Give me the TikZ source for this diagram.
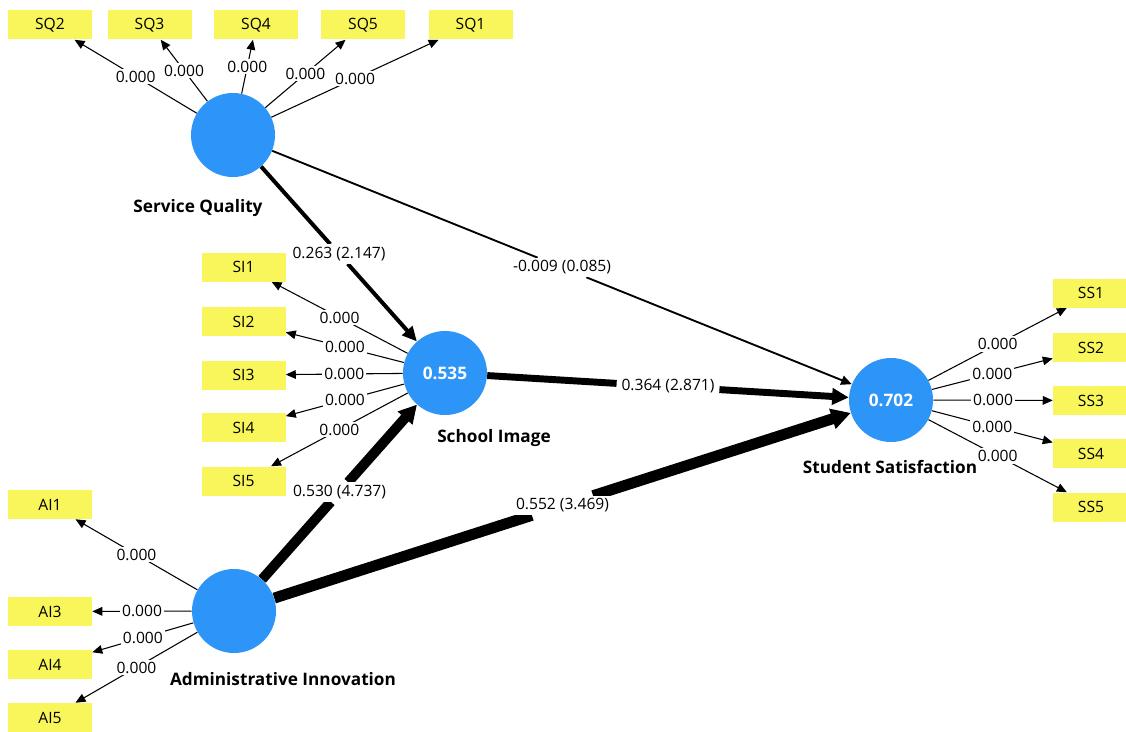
\documentclass[tikz,border=0pt]{standalone}
\usepackage{fontspec}
\setmainfont{Open Sans}
\usetikzlibrary{arrows.meta,calc}
\pgfdeclarelayer{bg}
\pgfdeclarelayer{paper}
\pgfsetlayers{paper,bg,main}
\definecolor{lvblue}{RGB}{45,148,248}
\definecolor{mvyellow}{RGB}{248,246,90}
\newcommand{\fsz}{\fontsize{11.7}{14}\selectfont}
\newcommand{\fbz}{\fontsize{12.9}{15}\selectfont}
\tikzset{
  lv/.style={circle,fill=lvblue,minimum size=63pt,inner sep=0pt,text=white,font=\bfseries\fbz},
  mv/.style={rectangle,fill=mvyellow,minimum width=63pt,minimum height=21.75pt,inner sep=0pt,font=\fsz},
  lvname/.style={inner sep=0pt,font=\bfseries\fbz},
  lbl/.style={fill=white,inner sep=1.5pt,font=\fsz},
  plbl/.style={fill=white,inner xsep=3.5pt,inner ysep=2pt,font=\fsz},
  ind/.style={draw=black,line width=0.8pt,-{Triangle[length=7.5pt,width=6.5pt]}},
}
\begin{document}
\begin{tikzpicture}[x=0.75pt,y=-0.75pt]
\clip (0,0) rectangle (1126,731);
\begin{pgfonlayer}{paper}
\fill[white] (0,0) rectangle (1126,731);
\end{pgfonlayer}
% latent variables
\node[lv] (sq) at (233,135) {};
\node[lv] (si) at (445,373) {0.535};
\node[lv] (ss) at (891,400) {0.702};
\node[lv] (ai) at (234,611) {};
\node[lvname] (sqn) at (198,208) {Service Quality};
\node[lvname] (sin) at (494,438) {School Image};
\node[lvname] (ssn) at (890,467) {Student Satisfaction};
\node[lvname] (ain) at (283,679) {Administrative Innovation};
% indicators
\node[mv] (sq2) at (50,25) {SQ2};
\node[mv] (sq3) at (149.5,25) {SQ3};
\node[mv] (sq4) at (256,25) {SQ4};
\node[mv] (sq5) at (363,25) {SQ5};
\node[mv] (sq1) at (470.5,25) {SQ1};
\node[mv] (si1) at (243.5,267) {SI1};
\node[mv] (si2) at (243.5,321.5) {SI2};
\node[mv] (si3) at (243.5,375) {SI3};
\node[mv] (si4) at (243.5,427.5) {SI4};
\node[mv] (si5) at (243.5,481) {SI5};
\node[mv] (ss1) at (1095,293) {\hspace*{-6pt}SS1};
\node[mv] (ss2) at (1095,347.5) {\hspace*{-6pt}SS2};
\node[mv] (ss3) at (1095,400.5) {\hspace*{-6pt}SS3};
\node[mv] (ss4) at (1095,453.5) {\hspace*{-6pt}SS4};
\node[mv] (ss5) at (1095,507) {\hspace*{-6pt}SS5};
\node[mv] (ai1) at (50,504.5) {AI1};
\node[mv] (ai3) at (50,611.5) {AI3};
\node[mv] (ai4) at (50,664.5) {AI4};
\node[mv] (ai5) at (50,717.5) {AI5};
% path coefficient labels
\node[plbl] (p1) at ($(sq)!0.5!(si)$) {0.263 (2.147)};
\node[plbl] (p2) at ($(sq)!0.5!(ss)$) {-0.009 (0.085)};
\node[plbl] (p3) at ($(si)!0.5!(ss)$) {0.364 (2.871)};
\node[plbl] (p4) at ($(ai)!0.5!(si)$) {0.530 (4.737)};
\node[plbl] (p5) at ($(ai)!0.5!(ss)$) {0.552 (3.469)};
\begin{pgfonlayer}{bg}
% structural paths
\draw[line width=3pt] (sq) -- (p1);
\draw[line width=3pt,-{Triangle[length=11pt,width=10pt]}] (p1) -- (si);
\draw[line width=1.4pt] (sq) -- (p2);
\draw[line width=1.4pt,-{Triangle[length=8pt,width=7pt]}] (p2) -- (ss);
\draw[line width=5.2pt] (si) -- (p3);
\draw[line width=5.2pt,-{Triangle[length=12.5pt,width=12pt]}] (p3) -- (ss);
\draw[line width=7.5pt] (ai) -- (p4);
\draw[line width=7.5pt,-{Triangle[length=13.5pt,width=14pt]}] (p4) -- (si);
\draw[line width=8.2pt] (ai) -- (p5);
\draw[line width=8.2pt,-{Triangle[length=14.5pt,width=15pt]}] (p5) -- (ss);
% outer loadings
\draw[ind] (sq) -- node[lbl]{0.000} (sq2);
\draw[ind] (sq) -- node[lbl]{0.000} (sq3);
\draw[ind] (sq) -- node[lbl]{0.000} (sq4);
\draw[ind] (sq) -- node[lbl]{0.000} (sq5);
\draw[ind] (sq) -- node[lbl]{0.000} (sq1);
\draw[ind] (si) -- node[lbl]{0.000} (si1);
\draw[ind] (si) -- node[lbl]{0.000} (si2);
\draw[ind] (si) -- node[lbl]{0.000} (si3);
\draw[ind] (si) -- node[lbl]{0.000} (si4);
\draw[ind] (si) -- node[lbl]{0.000} (si5);
\draw[ind] (ss) -- node[lbl]{0.000} (ss1);
\draw[ind] (ss) -- node[lbl]{0.000} (ss2);
\draw[ind] (ss) -- node[lbl]{0.000} (ss3);
\draw[ind] (ss) -- node[lbl]{0.000} (ss4);
\draw[ind] (ss) -- node[lbl]{0.000} (ss5);
\draw[ind] (ai) -- node[lbl]{0.000} (ai1);
\draw[ind] (ai) -- node[lbl]{0.000} (ai3);
\draw[ind] (ai) -- node[lbl]{0.000} (ai4);
\draw[ind] (ai) -- node[lbl]{0.000} (ai5);
\end{pgfonlayer}
\end{tikzpicture}
\end{document}
